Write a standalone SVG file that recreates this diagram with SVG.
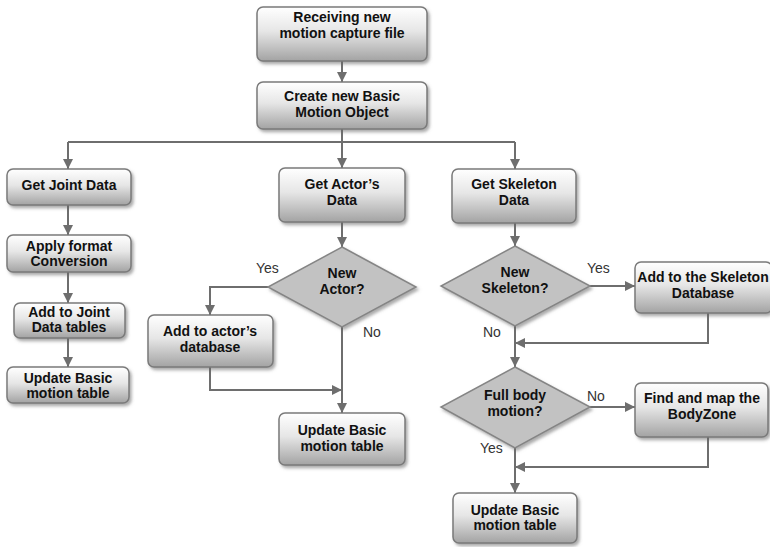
<svg xmlns="http://www.w3.org/2000/svg" width="770" height="547" viewBox="0 0 770 547">
<defs>
  <linearGradient id="boxGrad" x1="0" y1="0" x2="0" y2="1">
    <stop offset="0" stop-color="#ffffff"/>
    <stop offset="0.45" stop-color="#e6e6e6"/>
    <stop offset="1" stop-color="#a3a3a3"/>
  </linearGradient>
  <filter id="shadow" x="-10%" y="-10%" width="130%" height="140%">
    <feDropShadow dx="2" dy="2.5" stdDeviation="1.5" flood-color="#666" flood-opacity="0.55"/>
  </filter>
  <marker id="arrow" viewBox="0 0 10 10" refX="10" refY="5" markerWidth="5" markerHeight="5" orient="auto" markerUnits="strokeWidth">
    <path d="M0,0 L10,5 L0,10 z" fill="#6e6e6e"/>
  </marker>
  <style>
    .box { fill: url(#boxGrad); stroke: #7a7a7a; stroke-width: 1.5; filter: url(#shadow); }
    .dia { fill: #c2c2c2; stroke: #858585; stroke-width: 1.5; filter: url(#shadow); }
    .t { font-family: "Liberation Sans", Arial, sans-serif; font-weight: bold; font-size: 14px; fill: #111; text-anchor: middle; }
    .lbl { font-family: "Liberation Sans", Arial, sans-serif; font-size: 14px; fill: #333; }
    .c { fill: none; stroke: #6e6e6e; stroke-width: 2; }
    .ca { fill: none; stroke: #6e6e6e; stroke-width: 2; marker-end: url(#arrow); }
  </style>
</defs>

<g id="connectors">
  <path class="ca" d="M342,61 V82"/>
  <path class="ca" d="M342,129 V168"/>
  <path class="c" d="M68,142 H515"/>
  <path class="ca" d="M68,142 V169"/>
  <path class="ca" d="M515,142 V169"/>
  <path class="ca" d="M68,205 V235"/>
  <path class="ca" d="M68,272 V303"/>
  <path class="ca" d="M68,338 V367"/>
  <path class="ca" d="M342,222 V247"/>
  <path class="ca" d="M268,287 H210 V315"/>
  <path class="ca" d="M342,327 V413"/>
  <path class="ca" d="M210,367 V390 H342"/>
  <path class="ca" d="M515,223 V246"/>
  <path class="ca" d="M590,286 H635"/>
  <path class="ca" d="M515,326 V367"/>
  <path class="ca" d="M708,313 V343 H515"/>
  <path class="ca" d="M590,407 H635"/>
  <path class="ca" d="M708,437 V467 H515"/>
  <path class="ca" d="M515,448 V493"/>
</g>

<g id="labels">
  <text class="lbl" x="256" y="273">Yes</text>
  <text class="lbl" x="363" y="337">No</text>
  <text class="lbl" x="587" y="273">Yes</text>
  <text class="lbl" x="483" y="337">No</text>
  <text class="lbl" x="587" y="401">No</text>
  <text class="lbl" x="480" y="453">Yes</text>
</g>

<g id="receive">
  <rect class="box" x="257" y="7" width="170" height="54" rx="6"/>
  <text class="t" x="342" y="22">Receiving new</text>
  <text class="t" x="342" y="38">motion capture file</text>
</g>
<g id="create">
  <rect class="box" x="257" y="82" width="170" height="47" rx="6"/>
  <text class="t" x="342" y="101">Create new Basic</text>
  <text class="t" x="342" y="117">Motion Object</text>
</g>

<g id="getJoint">
  <rect class="box" x="7" y="169" width="124" height="36" rx="6"/>
  <text class="t" x="69" y="190">Get Joint Data</text>
</g>
<g id="applyFormat">
  <rect class="box" x="7" y="235" width="124" height="37" rx="6"/>
  <text class="t" x="69" y="251">Apply format</text>
  <text class="t" x="69" y="266">Conversion</text>
</g>
<g id="addJoint">
  <rect class="box" x="14" y="303" width="111" height="35" rx="6"/>
  <text class="t" x="69" y="317">Add to Joint</text>
  <text class="t" x="69" y="332">Data tables</text>
</g>
<g id="updateLeft">
  <rect class="box" x="7" y="367" width="122" height="36" rx="6"/>
  <text class="t" x="68" y="383">Update Basic</text>
  <text class="t" x="68" y="398">motion table</text>
</g>

<g id="getActor">
  <rect class="box" x="279" y="168" width="126" height="54" rx="6"/>
  <text class="t" x="342" y="189">Get Actor’s</text>
  <text class="t" x="342" y="205">Data</text>
</g>
<g id="newActor">
  <polygon class="dia" points="342,247 416,287 342,327 268,287"/>
  <text class="t" x="342" y="278">New</text>
  <text class="t" x="342" y="294">Actor?</text>
</g>
<g id="addActor">
  <rect class="box" x="148" y="315" width="125" height="52" rx="6"/>
  <text class="t" x="210" y="336">Add to actor’s</text>
  <text class="t" x="210" y="352">database</text>
</g>
<g id="updateMid">
  <rect class="box" x="279" y="413" width="126" height="52" rx="6"/>
  <text class="t" x="342" y="435">Update Basic</text>
  <text class="t" x="342" y="451">motion table</text>
</g>

<g id="getSkeleton">
  <rect class="box" x="452" y="169" width="124" height="54" rx="6"/>
  <text class="t" x="514" y="189">Get Skeleton</text>
  <text class="t" x="514" y="205">Data</text>
</g>
<g id="newSkeleton">
  <polygon class="dia" points="515,246 590,286 515,326 441,286"/>
  <text class="t" x="515" y="277">New</text>
  <text class="t" x="515" y="293">Skeleton?</text>
</g>
<g id="addSkeleton">
  <rect class="box" x="635" y="262" width="137" height="51" rx="6"/>
  <text class="t" x="703" y="282">Add to the Skeleton</text>
  <text class="t" x="703" y="298">Database</text>
</g>
<g id="fullBody">
  <polygon class="dia" points="515,367 590,407 515,448 441,407"/>
  <text class="t" x="515" y="400">Full body</text>
  <text class="t" x="515" y="416">motion?</text>
</g>
<g id="findMap">
  <rect class="box" x="635" y="383" width="133" height="54" rx="6"/>
  <text class="t" x="702" y="403">Find and map the</text>
  <text class="t" x="702" y="419">BodyZone</text>
</g>
<g id="updateRight">
  <rect class="box" x="453" y="493" width="124" height="50" rx="6"/>
  <text class="t" x="515" y="515">Update Basic</text>
  <text class="t" x="515" y="530">motion table</text>
</g>
</svg>
